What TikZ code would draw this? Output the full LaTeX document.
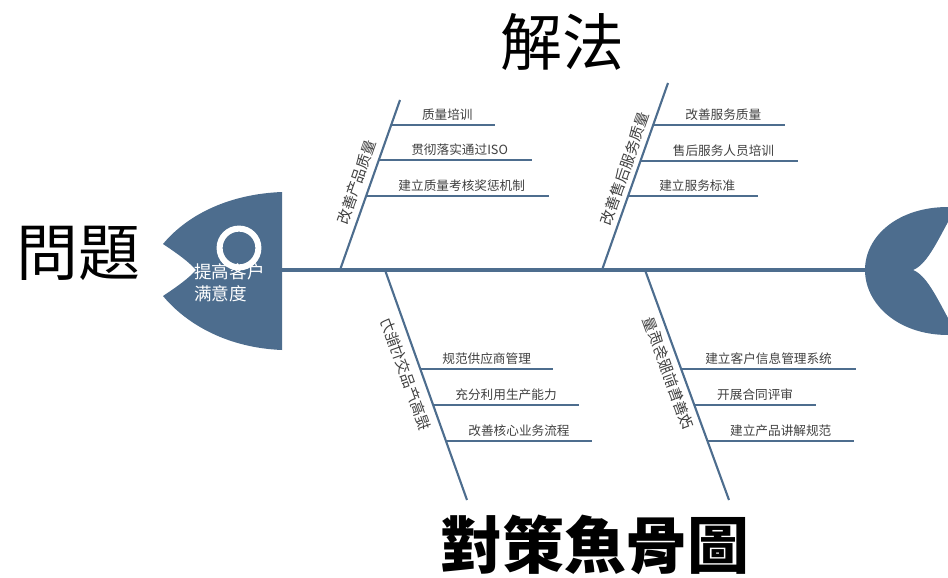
\documentclass[tikz,border=0pt]{standalone}
\usepackage{fontspec}
\newfontfamily\cjksc{Noto Sans CJK SC}
\newfontfamily\cjktc{Noto Sans CJK TC}
\usetikzlibrary{calc}
\definecolor{fishblue}{RGB}{77,109,142}

\begin{document}
\begin{tikzpicture}[
  x=0.025cm, y=-0.025cm,
  fish/.style={fill=fishblue, draw=none},
  spine/.style={draw=fishblue, line width=2.2pt},
  bone/.style={draw=fishblue, line width=1.5pt},
  twig/.style={draw=fishblue, line width=1.4pt},
  lbl/.style={font=\cjksc\fontsize{9}{10}\selectfont, text=black!75, inner sep=1.5pt},
  bonelbl/.style={font=\cjksc\fontsize{10.5}{12}\selectfont, text=black!75, inner sep=4pt},
  title/.style={font=\cjktc\fontsize{44}{50}\selectfont, inner sep=0pt}
]
\useasboundingbox (0,0) rectangle (948,578);

% head and tail
\fill[fish] (282,192) .. controls (230,194) and (188,214) .. (163,244)
  .. controls (178,254) and (189,262) .. (196,270)
  .. controls (189,278) and (178,286) .. (163,296)
  .. controls (188,326) and (230,348) .. (282,350) -- cycle;
\fill[fish] (948,207) .. controls (898,207) and (865,236) .. (865,270)
  .. controls (865,304) and (898,335) .. (948,335) -- (948,318)
  .. controls (936,296) and (926,275) .. (913,270)
  .. controls (926,265) and (936,244) .. (948,222) -- cycle;
\node[circle, draw=white, fill=fishblue, line width=4.3pt, minimum size=0.97cm, inner sep=0pt] (eye) at (239,248) {};
\node[font=\cjksc\fontsize{12.5}{15.5}\selectfont, text=white, align=left, anchor=north west, inner sep=0pt] (goal) at (194,263) {提高客户\\满意度};

% spine
\coordinate (spineL) at (282,270);
\coordinate (spineR) at (866,270);
\draw[spine] (spineL) -- (spineR);

% upper bones
\coordinate (b1s) at (340,270);
\coordinate (b1e) at (400,100);
\coordinate (b2s) at (602,270);
\coordinate (b2e) at (668,83);
\draw[bone] (b1s) -- (b1e) node[bonelbl, pos=0.49, rotate=70.6, anchor=south] (bl1) {改善产品质量};
\draw[bone] (b2s) -- (b2e) node[bonelbl, pos=0.52, rotate=70.6, anchor=south, inner sep=3pt] (bl2) {改善售后服务质量};

% lower bones (labels come out mirrored in the original)
\coordinate (b3s) at (385,270);
\coordinate (b3e) at (467,500);
\coordinate (b4s) at (645,270);
\coordinate (b4e) at (729,500);
\draw[bone] (b3s) -- (b3e) node[bonelbl, pos=0.43, rotate=-70.4, xscale=-1, anchor=north, inner sep=5pt] (bl3) {提高产品交付能力};
\draw[bone] (b4s) -- (b4e) node[bonelbl, pos=0.43, rotate=-70, xscale=-1, anchor=north] (bl4) {改善售前服务质量};

% twigs on bone 1
\coordinate (t11) at (391.2,125);  \coordinate (t11e) at (495,125);
\coordinate (t12) at (378.8,160);  \coordinate (t12e) at (532,160);
\coordinate (t13) at (366.1,196);  \coordinate (t13e) at (549,196);
\draw[twig] (t11) -- (t11e) node[lbl, midway, above=1pt, xshift=3pt] (l11) {质量培训};
\draw[twig] (t12) -- (t12e) node[lbl, midway, above=1pt, xshift=3pt] (l12) {贯彻落实通过ISO};
\draw[twig] (t13) -- (t13e) node[lbl, midway, above=1pt, xshift=3pt] (l13) {建立质量考核奖惩机制};

% twigs on bone 2
\coordinate (t21) at (653.2,125);  \coordinate (t21e) at (785,125);
\coordinate (t22) at (640.5,161);  \coordinate (t22e) at (798,161);
\coordinate (t23) at (628.1,196);  \coordinate (t23e) at (758,196);
\draw[twig] (t21) -- (t21e) node[lbl, midway, above=1pt, xshift=3pt] (l21) {改善服务质量};
\draw[twig] (t22) -- (t22e) node[lbl, midway, above=1pt, xshift=3pt] (l22) {售后服务人员培训};
\draw[twig] (t23) -- (t23e) node[lbl, midway, above=1pt, xshift=3pt] (l23) {建立服务标准};

% twigs on bone 3
\coordinate (t31) at (420.3,369);  \coordinate (t31e) at (553,369);
\coordinate (t32) at (433.1,405);  \coordinate (t32e) at (579,405);
\coordinate (t33) at (446.0,441);  \coordinate (t33e) at (592,441);
\draw[twig] (t31) -- (t31e) node[lbl, midway, above=1pt] (l31) {规范供应商管理};
\draw[twig] (t32) -- (t32e) node[lbl, midway, above=1pt] (l32) {充分利用生产能力};
\draw[twig] (t33) -- (t33e) node[lbl, midway, above=1pt] (l33) {改善核心业务流程};

% twigs on bone 4
\coordinate (t41) at (681.2,369);  \coordinate (t41e) at (856,369);
\coordinate (t42) at (694.3,405);  \coordinate (t42e) at (816,405);
\coordinate (t43) at (707.5,441);  \coordinate (t43e) at (854,441);
\draw[twig] (t41) -- (t41e) node[lbl, midway, above=1pt] (l41) {建立客户信息管理系统};
\draw[twig] (t42) -- (t42e) node[lbl, midway, above=1pt] (l42) {开展合同评审};
\draw[twig] (t43) -- (t43e) node[lbl, midway, above=1pt] (l43) {建立产品讲解规范};

% titles
\node[title] (prob) at (78,253) {問題};
\node[title] (sol) at (562,42) {解法};
\node[title, font=\cjktc\bfseries\fontsize{44}{50}\selectfont] (name) at (595,545) {對策魚骨圖};
\end{tikzpicture}
\end{document}
